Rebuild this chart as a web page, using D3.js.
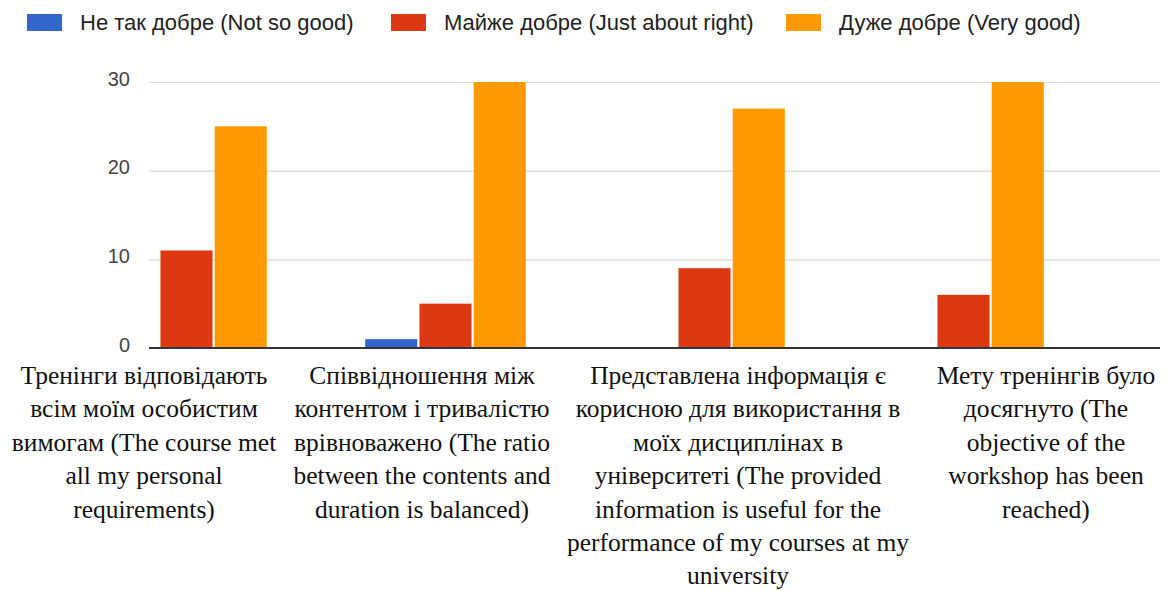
<!DOCTYPE html>
<html>
<head>
<meta charset="utf-8">
<script src="https://cdn.jsdelivr.net/npm/d3@7"></script>
<style>
  body { margin: 0; background: #fff; }
  svg { display: block; }
  .cat { font-family: 'Liberation Serif', 'DejaVu Serif', serif; }
</style>
</head>
<body>
<svg id="chart" width="1168" height="591"></svg>
<script>
// data
var categories = ['q1', 'q2', 'q3', 'q4'];
var seriesNames = ['Не так добре (Not so good)', 'Майже добре (Just about right)', 'Дуже добре (Very good)'];
var notSoGood = [0, 1, 0, 0];
var justAboutRight = [11, 5, 9, 6];
var veryGood = [25, 30, 27, 30];
var yTicks = [0, 10, 20, 30];
var categoryLabels = [
  ['Тренінги відповідають', 'всім моїм особистим', 'вимогам (The course met', 'all my personal', 'requirements)'],
  ['Співвідношення між', 'контентом і тривалістю', 'врівноважено (The ratio', 'between the contents and', 'duration is balanced)'],
  ['Представлена інформація є', 'корисною для використання в', 'моїх дисциплінах в', 'університеті (The provided', 'information is useful for the', 'performance of my courses at my', 'university'],
  ['Мету тренінгів було', 'досягнуто (The', 'objective of the', 'workshop has been', 'reached)']
];

var colors = ['#3366cc', '#dc3912', '#ff9900'];
var labelX = [144, 422, 738, 1046];

var svg = d3.select('#chart');
var values = [notSoGood, justAboutRight, veryGood];

var y = d3.scaleLinear().domain([0, 30]).range([348, 82]);
var x0 = d3.scaleBand().domain(categories).range([57, 1093]).paddingInner(0.38).paddingOuter(0.19);
var x1 = d3.scaleBand().domain(d3.range(3)).range([0, x0.bandwidth()]).paddingInner(0.04);

// gridlines + y labels
var yAxis = d3.axisLeft(y).tickValues(yTicks).tickSize(-(1160 - 149)).tickPadding(19);
var ga = svg.append('g').attr('transform', 'translate(149,0)').call(yAxis);
ga.select('.domain').remove();
ga.selectAll('line').attr('stroke', '#d9d9d9').attr('stroke-width', 1.2);
ga.selectAll('text')
  .attr('font-family', 'Liberation Sans, Arial, sans-serif')
  .attr('font-size', 20)
  .attr('dy', '0.15em')
  .attr('fill', '#444');

// bars
categories.forEach(function(c, i) {
  var g = svg.append('g').attr('transform', 'translate(' + x0(c) + ',0)');
  for (var s = 0; s < 3; s++) {
    var v = values[s][i];
    if (v <= 0) continue;
    g.append('rect')
      .attr('x', x1(s))
      .attr('y', y(v))
      .attr('width', x1.bandwidth())
      .attr('height', y(0) - y(v))
      .attr('fill', colors[s]);
  }
});

// baseline
svg.append('line')
  .attr('x1', 149).attr('x2', 1160)
  .attr('y1', y(0)).attr('y2', y(0))
  .attr('stroke', '#333').attr('stroke-width', 2);

// category labels
categoryLabels.forEach(function(lines, i) {
  var t = svg.append('text')
    .attr('class', 'cat')
    .attr('text-anchor', 'middle')
    .attr('font-size', 25.5)
    .attr('fill', '#111');
  lines.forEach(function(l, k) {
    t.append('tspan').attr('x', labelX[i]).attr('y', 384 + k * 33.4).text(l);
  });
});

// legend
var legendX = [27, 391, 786];
var lg = svg.append('g');
seriesNames.forEach(function(name, s) {
  lg.append('rect')
    .attr('x', legendX[s]).attr('y', 14)
    .attr('width', 35).attr('height', 17)
    .attr('fill', colors[s]);
  lg.append('text')
    .attr('x', legendX[s] + 53).attr('y', 30)
    .attr('font-family', 'Liberation Sans, Arial, sans-serif')
    .attr('font-size', 22)
    .attr('fill', '#222')
    .text(name);
});
</script>
</body>
</html>
